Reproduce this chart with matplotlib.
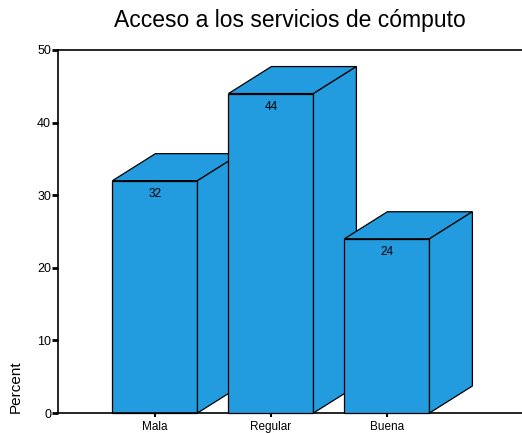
import numpy as np
import matplotlib.pyplot as plt
from matplotlib.patches import Polygon, Rectangle

plt.rcParams['font.family'] = ['Liberation Sans', 'DejaVu Sans']

categories = ['Mala', 'Regular', 'Buena']
percent = [32, 44, 24]
yticks = [0, 10, 20, 30, 40, 50]

fig = plt.figure(figsize=(5.22, 4.33), dpi=100)
ax = fig.add_axes([58/522, 1 - 413/433, 464/522, 363/433])

w = 0.733      # bar width (category units)
dx = 0.37      # depth offset in x
dy = 3.72      # depth offset in y
col = '#229CDE'

for i, v in enumerate(percent):
    x0 = i - w/2
    x1 = i + w/2
    z = 2 + i
    ax.add_patch(Rectangle((x0, 0), w, v, fc=col, ec='black', lw=0.9, zorder=z, clip_on=False))
    ax.add_patch(Polygon([(x0, v), (x1, v), (x1 + dx, v + dy), (x0 + dx, v + dy)],
                         closed=True, fc=col, ec='black', lw=0.9, zorder=z, clip_on=False))
    ax.add_patch(Polygon([(x1, 0), (x1 + dx, dy), (x1 + dx, v + dy), (x1, v)],
                         closed=True, fc=col, ec='black', lw=0.9, zorder=z, clip_on=False))
    ax.text(i, v - 1.0, str(v), ha='center', va='top', fontsize=8.5, zorder=10)

ax.set_xlim(-0.836, 3.164)
ax.set_ylim(0, 50)
ax.set_xticks(range(len(categories)))
ax.set_xticklabels(categories, fontsize=8.5)
ax.set_yticks(yticks)
ax.set_yticklabels([str(t) for t in yticks], fontsize=9)
ax.tick_params(axis='y', length=4, width=2, pad=1)
ax.tick_params(axis='x', length=3, width=1.5, pad=3)
ax.spines['right'].set_visible(False)
for s in ['left', 'top', 'bottom']:
    ax.spines[s].set_linewidth(1.2)

ax.set_ylabel('Percent', fontsize=11, loc='bottom', labelpad=10)
fig.text(290/522, 1 - 21/433, 'Acceso a los servicios de cómputo', fontsize=16.5,
         ha='center', va='center')

fig.savefig('out.png', dpi=100)
